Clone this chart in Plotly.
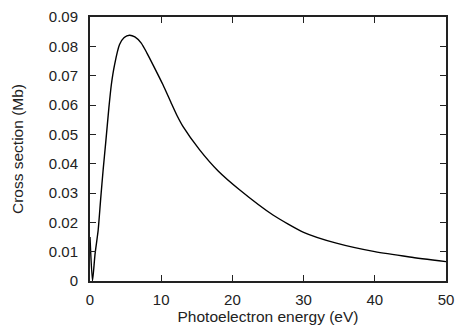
import plotly.graph_objects as go

energy = [0, 0.35, 0.7, 1.15, 1.5, 1.85, 2.2, 2.65, 3.0, 3.45, 4.15, 4.8, 5.55, 6.3, 7.2,
          8.0, 8.85, 10.25, 11.4, 12.2, 13.05, 15.4, 18, 21, 25.7, 30, 34.6, 40, 44.9, 50]
cross_section = [0.015, 0.0, 0.009, 0.0174, 0.028, 0.038, 0.047, 0.059, 0.067, 0.0737,
                 0.0806, 0.0830, 0.0838, 0.0832, 0.0811, 0.0777, 0.0737, 0.0669, 0.0607,
                 0.0565, 0.0527, 0.0447, 0.0375, 0.0311, 0.0225, 0.0166, 0.0129, 0.0100,
                 0.0082, 0.0066]
x_ticks = [0, 10, 20, 30, 40, 50]
y_ticks = [0, 0.01, 0.02, 0.03, 0.04, 0.05, 0.06, 0.07, 0.08, 0.09]
y_tick_labels = ["0", "0.01", "0.02", "0.03", "0.04", "0.05", "0.06", "0.07", "0.08", "0.09"]

FONT = "Liberation Sans, Arial, Helvetica, sans-serif"
INK = "#222"

fig = go.Figure(go.Scatter(x=energy, y=cross_section, mode="lines",
                           line=dict(color="black", width=1.4, shape="spline", smoothing=0.6)))

axis_common = dict(showgrid=False, zeroline=False, showline=True, linecolor=INK,
                   linewidth=2, mirror="ticks", ticks="inside", ticklen=6,
                   tickcolor=INK, tickwidth=1, automargin=False,
                   tickfont=dict(family=FONT, size=15, color=INK))

fig.update_layout(
    width=458, height=329,
    margin=dict(l=90, r=12, t=17, b=48),
    plot_bgcolor="white", paper_bgcolor="white",
    showlegend=False,
    xaxis=dict(range=[0, 50], tickvals=x_ticks, ticklabelstandoff=4,
               title=dict(text="Photoelectron energy (eV)", standoff=4,
                          font=dict(family=FONT, size=15.5, color=INK)),
               **axis_common),
    yaxis=dict(range=[0, 0.09], tickvals=y_ticks, ticktext=y_tick_labels,
               ticklabelstandoff=7,
               title=dict(text="Cross section (Mb)", standoff=21,
                          font=dict(family=FONT, size=15.5, color=INK)),
               **axis_common),
)

fig.write_html("out.html", config={"displayModeBar": False},
               post_script="document.body.style.margin='0';")
